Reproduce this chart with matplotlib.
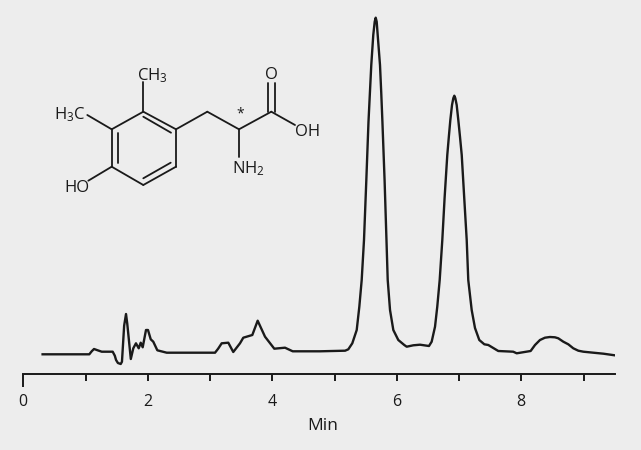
import matplotlib
matplotlib.use("Agg")
import matplotlib.pyplot as plt

# ---------------- Data ----------------
time_min = [0.31, 1.06, 1.10, 1.136, 1.19, 1.26, 1.436, 1.47, 1.49, 1.52, 1.565, 1.585, 1.62, 1.65, 1.67,
            1.727, 1.767, 1.81, 1.854, 1.886, 1.918, 1.971, 2.003, 2.047, 2.088, 2.153, 2.304,
            3.08, 3.13, 3.187, 3.293, 3.373, 3.481, 3.534, 3.679, 3.765, 3.883, 4.032, 4.204, 4.328, 4.766, 5.17,
            5.221, 5.285, 5.356, 5.398, 5.436, 5.473, 5.51, 5.545, 5.568, 5.59, 5.622, 5.645, 5.661, 5.677,
            5.693, 5.73, 5.75, 5.769, 5.804, 5.834, 5.854, 5.891, 5.944, 6.024, 6.12, 6.159, 6.265, 6.373, 6.517,
            6.56, 6.614, 6.65, 6.689, 6.731, 6.768, 6.811, 6.836, 6.86, 6.887, 6.908, 6.924, 6.94, 6.962, 6.988,
            7.015, 7.043, 7.083, 7.123, 7.148, 7.203, 7.256, 7.325, 7.406, 7.47, 7.63, 7.87, 7.926, 8.15,
            8.22, 8.30, 8.38, 8.46, 8.54, 8.594, 8.675, 8.755, 8.835, 8.916, 8.997, 9.157, 9.32, 9.5]
signal = [19.4, 19.4, 22.5, 24.7, 23.5, 22, 22, 18, 13.7, 10.7, 9.7, 12, 48, 59.7, 50,
          14.7, 25.4, 30.4, 25.4, 31, 26.4, 43.7, 43.7, 34.4, 32, 23.4, 21,
          21, 25, 30.4, 31, 21.7, 30.4, 36, 38.7, 53, 37, 25, 26, 22.4, 22.4, 23,
          24.4, 30.4, 43.7, 67, 93.7, 133.7, 193, 251.7, 281, 308.7, 338.7, 352, 356, 352,
          338.7, 308.7, 281, 251.7, 193, 133.7, 93.7, 63.7, 43.7, 33.7, 28.7, 27, 28.4, 29, 27.7,
          32, 47, 67, 93.7, 133.7, 176, 218.7, 237, 253.7, 268.7, 275.5, 278, 275.5, 268.7, 253.7,
          237, 218.7, 176, 133.7, 93.7, 63.7, 45.7, 33.7, 29.4, 28.7, 22.7, 22, 20.4, 22.7,
          28.7, 33.7, 36, 36.7, 36.4, 35.4, 32, 29.4, 25.4, 23, 22, 21, 20, 18.4]

x_ticks = [0, 1, 2, 3, 4, 5, 6, 7, 8, 9]
x_labels = ["0", "", "2", "", "4", "", "6", "", "8", ""]

# molecule drawing, in figure pixels
bonds = [((143.3, 111.7), (176, 129.3)), ((176, 129.3), (176, 166.7)), ((176, 166.7), (143.3, 185)),
         ((143.3, 185), (111.7, 166.7)), ((111.7, 166.7), (111.7, 129.3)), ((111.7, 129.3), (143.3, 111.7)),
         ((143.3, 116.7), (171, 132.7)), ((143.3, 178.3), (170.7, 162.7)), ((118.3, 133.3), (118.3, 163.3)),
         ((143.3, 111.7), (143.3, 81.7)), ((111.7, 129.3), (87.3, 115)), ((111.7, 166.7), (88.3, 180.7)),
         ((176, 129.3), (207.3, 111.7)), ((207.3, 111.7), (239, 129.3)), ((239, 129.3), (271.3, 111.7)),
         ((271.3, 111.7), (295, 125)), ((239, 129.3), (239, 157.3)),
         ((268, 111.7), (268, 82.7)), ((274.7, 111.7), (274.7, 82.7))]
atoms = [(152.3, 76, "CH$_3$"), (69.3, 115, "H$_3$C"), (76.7, 187.5, "HO"), (271.3, 75, "O"),
         (307.3, 132.5, "OH"), (248.3, 168.5, "NH$_2$")]

BG = "#ededed"
INK = "#1a1a1a"

plt.rcParams["font.family"] = "Open Sans"
plt.rcParams["mathtext.default"] = "regular"

fig = plt.figure(figsize=(6.41, 4.5), dpi=100, facecolor=BG)

# ---------------- Chromatogram ----------------
ax = fig.add_axes([23.3 / 641, (450 - 373.7) / 450, 592 / 641, 373.7 / 450], facecolor="none")
ax.plot(time_min, signal, color=INK, lw=1.7, solid_joinstyle="round")
ax.set_xlim(0, 9.51)
ax.set_ylim(0, 373.7)
for side in ["top", "left", "right"]:
    ax.spines[side].set_visible(False)
ax.spines["bottom"].set_linewidth(1.4)
ax.spines["bottom"].set_color(INK)
ax.set_yticks([])
ax.set_xticks(x_ticks)
ax.set_xticklabels(x_labels)
ax.tick_params(axis="x", length=5, width=1.4, color=INK, labelcolor=INK, labelsize=11.5, pad=9.5)
ax.xaxis.get_major_ticks()[0].tick1line.set_markersize(9.4)
ax.set_xlabel("Min", fontsize=12.5, color=INK, labelpad=6, x=0.506)

# ---------------- Molecule ----------------
mol = fig.add_axes([0, 0, 1, 1], facecolor="none")
mol.set_xlim(0, 641)
mol.set_ylim(450, 0)
mol.axis("off")
for start, end in bonds:
    mol.plot([start[0], end[0]], [start[1], end[1]], color=INK, lw=1.3, solid_capstyle="round")
for x, y, label in atoms:
    mol.text(x, y, label, ha="center", va="center", fontsize=12, color=INK)
mol.text(240.3, 114, "*", ha="center", va="center", fontsize=10, color=INK)

fig.savefig("out.png", dpi=100, facecolor=BG)
